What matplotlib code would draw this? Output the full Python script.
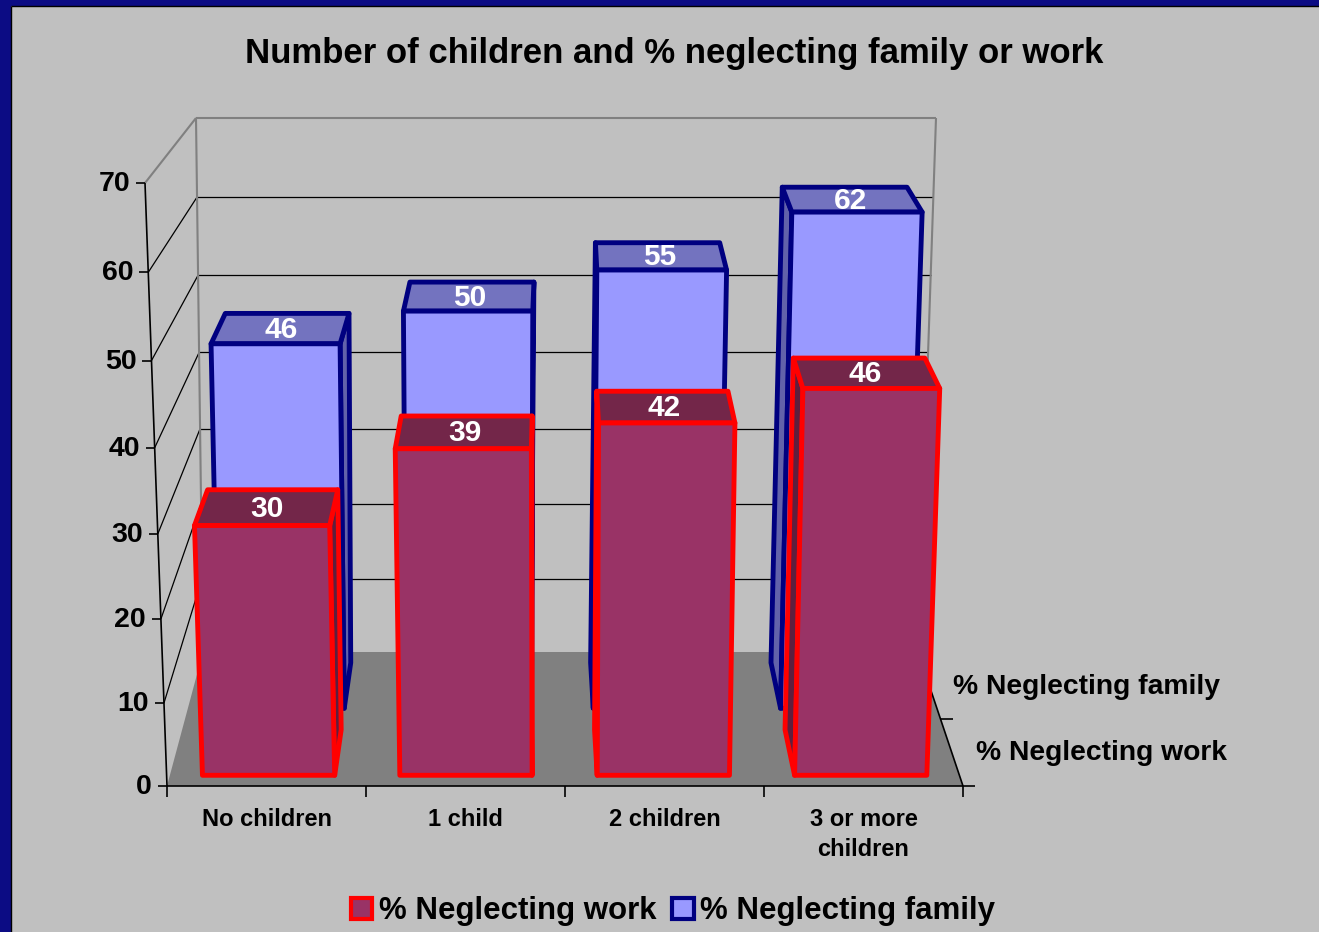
import matplotlib
matplotlib.use("Agg")
import matplotlib.pyplot as plt
from matplotlib.patches import Polygon, Rectangle, Patch

# data
categories = ["No children", "1 child", "2 children", "3 or more\nchildren"]
series_names = ["% Neglecting work", "% Neglecting family"]
work = [30, 39, 42, 46]
family = [46, 50, 55, 62]
value_ticks = [0, 10, 20, 30, 40, 50, 60, 70]

plt.rcParams['font.family'] = ['Liberation Sans', 'DejaVu Sans']
plt.rcParams['font.weight'] = 'bold'

# corners of the 3-D plot box in pixels: (left, right) for each plane
VMAX = value_ticks[-1]
FRONT_BOTTOM = ((167, 786), (963, 786))
FRONT_TOP = ((145, 183), (985, 183))
BACK_BOTTOM = ((203, 652), (918, 652))
BACK_TOP = ((196, 118), (936, 118))
PERSP = 0.045
N = len(categories)


def lerp(p, q, t):
    return (p[0] + (q[0] - p[0]) * t, p[1] + (q[1] - p[1]) * t)


def proj(x, d, v):
    # x: category units, d: depth 0 (front) .. 1 (back), v: value
    u = v / VMAX
    t = u * (1 + PERSP * u) / (1 + PERSP)
    f = x / N
    fl = lerp(FRONT_BOTTOM[0], FRONT_TOP[0], t)
    fr = lerp(FRONT_BOTTOM[1], FRONT_TOP[1], t)
    bl = lerp(BACK_BOTTOM[0], BACK_TOP[0], t)
    br = lerp(BACK_BOTTOM[1], BACK_TOP[1], t)
    return lerp(lerp(fl, fr, f), lerp(bl, br, f), d)


def line(ax, p, q, **kw):
    ax.plot([p[0], q[0]], [p[1], q[1]], solid_capstyle='butt', **kw)


fig = plt.figure(figsize=(13.19, 9.32), dpi=100, facecolor='#c0c0c0')
ax = fig.add_axes([0, 0, 1, 1])
ax.set_xlim(0, 1319)
ax.set_ylim(932, 0)
ax.axis('off')

# slide frame
ax.add_patch(Rectangle((0, 0), 10, 932, color='#0c0c84', zorder=0))
ax.add_patch(Rectangle((0, 0), 1319, 5, color='#0c0c84', zorder=0))
line(ax, (10.5, 5.5), (10.5, 932), color='black', lw=1, zorder=0)
line(ax, (10.5, 5.5), (1319, 5.5), color='black', lw=1, zorder=0)

ax.text(674, 54, "Number of children and % neglecting family or work",
        ha='center', va='center', fontsize=25, fontweight='bold')

# floor
ax.add_patch(Polygon([proj(0, 0, 0), proj(N, 0, 0), proj(N, 1, 0), proj(0, 1, 0)],
                     closed=True, facecolor='#808080', edgecolor='none', zorder=1))

# gridlines on back and side walls
for v in value_ticks[1:-1]:
    line(ax, proj(0, 0, v), proj(0, 1, v), color='black', lw=0.9, zorder=1)
    line(ax, proj(0, 1, v), proj(N, 1, v), color='black', lw=0.9, zorder=1)
wall = '#808080'
line(ax, proj(0, 0, VMAX), proj(0, 1, VMAX), color=wall, lw=1.5, zorder=1)
line(ax, proj(0, 1, VMAX), proj(N, 1, VMAX), color=wall, lw=1.5, zorder=1)
line(ax, proj(0, 1, 0), proj(0, 1, VMAX), color=wall, lw=1.5, zorder=1)
line(ax, proj(N, 1, 0), proj(N, 1, VMAX), color=wall, lw=1.5, zorder=1)

# value axis
line(ax, proj(0, 0, 0), proj(0, 0, VMAX), color='black', lw=1.2, zorder=2)
for v in value_ticks:
    x, y = proj(0, 0, v)
    line(ax, (x - 9, y), (x, y), color='black', lw=1.2, zorder=2)
    ax.text(x - 15, y + 1, str(v), ha='right', va='center', fontsize=20.5)

# category axis
line(ax, proj(0, 0, 0), proj(N, 0, 0), color='black', lw=1.2, zorder=2)
for i in range(N + 1):
    x, y = proj(i, 0, 0)
    line(ax, (x, y), (x, y + 11), color='black', lw=1.2, zorder=2)
for i, c in enumerate(categories):
    x, y = proj(i + 0.5, 0, 0)
    ax.text(x, y + 22, c, ha='center', va='top', fontsize=17,
            multialignment='center', linespacing=1.4)

# depth (series) axis
line(ax, proj(N, 0, 0), proj(N, 1, 0), color='black', lw=1.2, zorder=2)
for d in (0, 0.5, 1):
    x, y = proj(N, d, 0)
    line(ax, (x, y), (x + 12, y), color='black', lw=1.2, zorder=2)
for k, name in enumerate(series_names):
    x, y = proj(N, 0.25 + 0.5 * k, 0)
    ax.text(x + 24, y + 1, name, ha='left', va='center', fontsize=20.3)

# bars
styles = [
    dict(face='#993366', top='#732649', side='#5e1f3e', edge='#ff0000'),
    dict(face='#9999ff', top='#7373bf', side='#6262aa', edge='#000080'),
]
depths = [(0.08, 0.42), (0.58, 0.92)]
GAP = 0.165
series = [work, family]

for k in (1, 0):
    st = styles[k]
    d0, d1 = depths[k]
    for i, val in enumerate(series[k]):
        x0, x1 = i + GAP, i + 1 - GAP
        kw = dict(closed=True, edgecolor=st['edge'], lw=3.5, joinstyle='round', zorder=3)
        if proj(x1, d1, val)[0] > proj(x1, d0, val)[0]:
            ax.add_patch(Polygon([proj(x1, d0, 0), proj(x1, d1, 0), proj(x1, d1, val),
                                  proj(x1, d0, val)], facecolor=st['side'], **kw))
        if proj(x0, d1, val)[0] < proj(x0, d0, val)[0]:
            ax.add_patch(Polygon([proj(x0, d0, 0), proj(x0, d1, 0), proj(x0, d1, val),
                                  proj(x0, d0, val)], facecolor=st['side'], **kw))
        ax.add_patch(Polygon([proj(x0, d0, val), proj(x1, d0, val), proj(x1, d1, val),
                              proj(x0, d1, val)], facecolor=st['top'], **kw))
        ax.add_patch(Polygon([proj(x0, d0, 0), proj(x1, d0, 0), proj(x1, d0, val),
                              proj(x0, d0, val)], facecolor=st['face'], **kw))
        cx, cy = proj(i + 0.5, (d0 + d1) / 2, val)
        ax.text(cx, cy + 1, str(val), ha='center', va='center', fontsize=21.5,
                color='white', fontweight='bold', zorder=4)

handles = [Patch(facecolor=s['face'], edgecolor=s['edge'], linewidth=3) for s in styles]
fig.legend(handles, series_names, loc='center', bbox_to_anchor=(0.51, 0.022),
           ncol=2, frameon=False, fontsize=22.5, handlelength=0.7, handleheight=0.7,
           handletextpad=0.2, columnspacing=0.5, borderaxespad=0)

fig.savefig('out.png', dpi=100, facecolor=fig.get_facecolor())
